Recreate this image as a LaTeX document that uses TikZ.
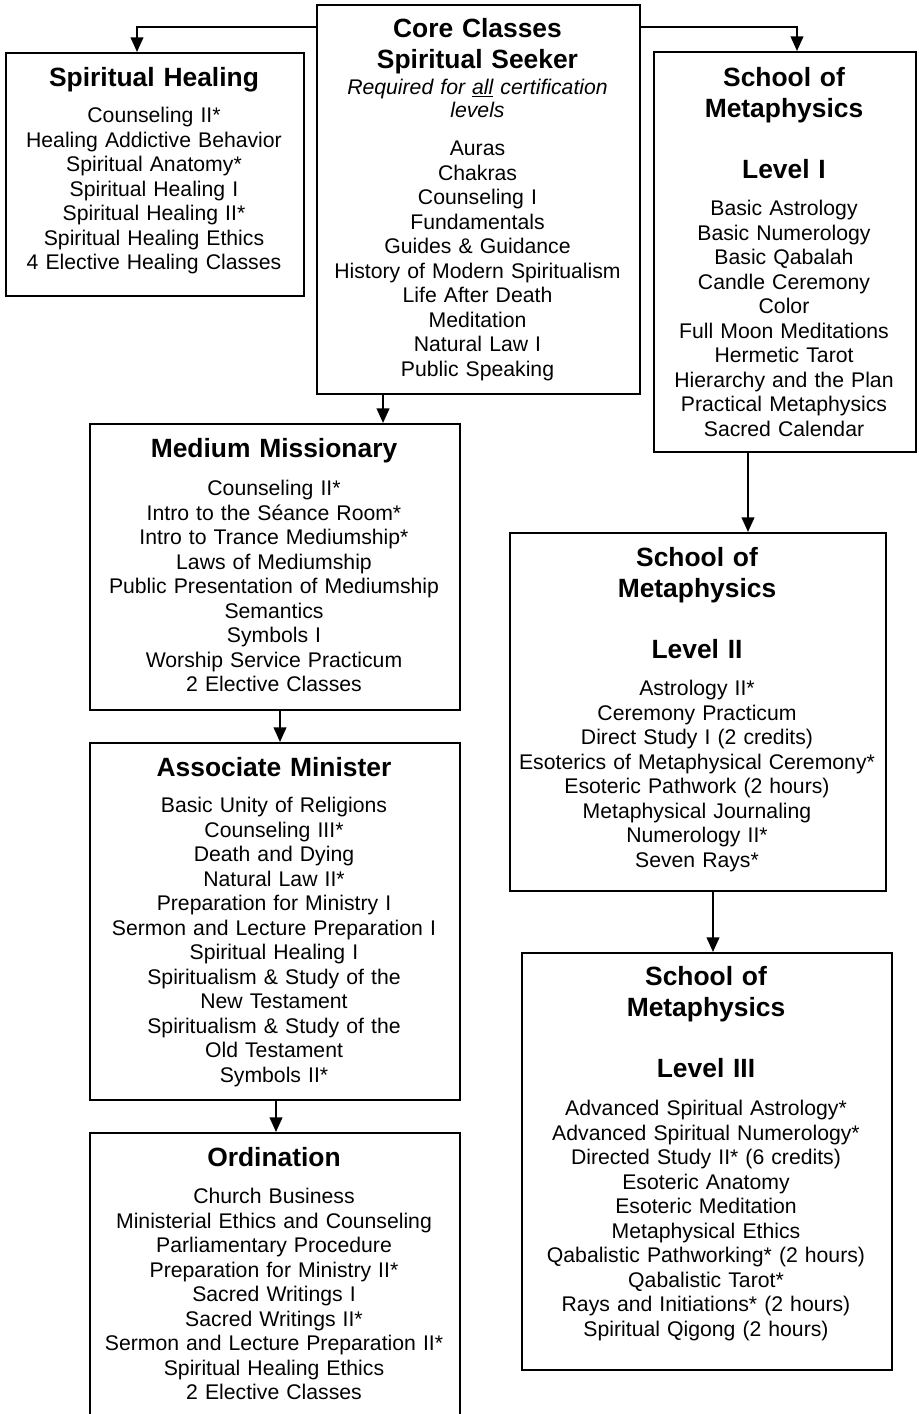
\documentclass[tikz,border=0pt]{standalone}
\usepackage{fontspec}
\setmainfont{Liberation Sans}
\usetikzlibrary{arrows.meta}
\begin{document}
\begin{tikzpicture}[x=0.75pt,y=-0.75pt,line width=1.5pt,>={Triangle[length=11pt,width=9.5pt]},
	frame/.style={draw,inner sep=0pt,anchor=north west},
	head/.style={align=center,text width=10cm,inner sep=0pt,anchor=base,font=\bfseries\fontsize{19.8}{23}\selectfont},
	list/.style={align=center,text width=10cm,inner sep=0pt,anchor=base,font=\fontsize{15.9}{18.4}\selectfont},
	note/.style={list,font=\itshape\fontsize{15.9}{17.25}\selectfont}]
	\clip (0,0) rectangle (918,1414);
	% boxes
	\node[frame,minimum width=242.25pt,minimum height=291.75pt] (core) at (316,4) {};
	\node[frame,minimum width=223.5pt,minimum height=182.25pt] (heal) at (5,52) {};
	\node[frame,minimum width=196.5pt,minimum height=300pt] (som1) at (653,51) {};
	\node[frame,minimum width=277.5pt,minimum height=214.5pt] (mm) at (89,423) {};
	\node[frame,minimum width=277.5pt,minimum height=267.75pt] (am) at (89,742) {};
	\node[frame,minimum width=277.5pt,minimum height=223.5pt] (ord) at (89,1132) {};
	\node[frame,minimum width=282pt,minimum height=268.5pt] (som2) at (509,532) {};
	\node[frame,minimum width=277.5pt,minimum height=312.75pt] (som3) at (521,952) {};
	% core classes
	\node[head] (coreT) at (477.5,37.5) {Core Classes\\Spiritual Seeker};
	\node[note] (coreN) at (477.5,94.5) {Required for \underline{all} certification\\levels};
	\node[list] (coreL) at (477.5,155.5) {Auras\\Chakras\\Counseling I\\Fundamentals\\Guides \& Guidance\\History of Modern Spiritualism\\Life After Death\\Meditation\\Natural Law I\\Public Speaking};
	% spiritual healing
	\node[head] (healT) at (154,86.5) {Spiritual Healing};
	\node[list] (healL) at (154,122.5) {Counseling II*\\Healing Addictive Behavior\\Spiritual Anatomy*\\Spiritual Healing I\\Spiritual Healing II*\\Spiritual Healing Ethics\\4 Elective Healing Classes};
	% metaphysics I
	\node[head] (som1T) at (784,86.5) {School of\\Metaphysics\\[23pt]Level I};
	\node[list] (som1L) at (784,215.5) {Basic Astrology\\Basic Numerology\\Basic Qabalah\\Candle Ceremony\\Color\\Full Moon Meditations\\Hermetic Tarot\\Hierarchy and the Plan\\Practical Metaphysics\\Sacred Calendar};
	% medium missionary
	\node[head] (mmT) at (274,457.5) {Medium Missionary};
	\node[list] (mmL) at (274,495.5) {Counseling II*\\Intro to the Séance Room*\\Intro to Trance Mediumship*\\Laws of Mediumship\\Public Presentation of Mediumship\\Semantics\\Symbols I\\Worship Service Practicum\\2 Elective Classes};
	% associate minister
	\node[head] (amT) at (274,776.5) {Associate Minister};
	\node[list] (amL) at (274,812.5) {Basic Unity of Religions\\Counseling III*\\Death and Dying\\Natural Law II*\\Preparation for Ministry I\\Sermon and Lecture Preparation I\\Spiritual Healing I\\Spiritualism \& Study of the\\New Testament\\Spiritualism \& Study of the\\Old Testament\\Symbols II*};
	% ordination
	\node[head] (ordT) at (274,1166.5) {Ordination};
	\node[list] (ordL) at (274,1203.5) {Church Business\\Ministerial Ethics and Counseling\\Parliamentary Procedure\\Preparation for Ministry II*\\Sacred Writings I\\Sacred Writings II*\\Sermon and Lecture Preparation II*\\Spiritual Healing Ethics\\2 Elective Classes};
	% metaphysics II
	\node[head] (som2T) at (697,566.5) {School of\\Metaphysics\\[23pt]Level II};
	\node[list] (som2L) at (697,695.5) {Astrology II*\\Ceremony Practicum\\Direct Study I (2 credits)\\Esoterics of Metaphysical Ceremony*\\Esoteric Pathwork (2 hours)\\Metaphysical Journaling\\Numerology II*\\Seven Rays*};
	% metaphysics III
	\node[head] (som3T) at (706,985.5) {School of\\Metaphysics\\[23pt]Level III};
	\node[list] (som3L) at (706,1115.5) {Advanced Spiritual Astrology*\\Advanced Spiritual Numerology*\\Directed Study II* (6 credits)\\Esoteric Anatomy\\Esoteric Meditation\\Metaphysical Ethics\\Qabalistic Pathworking* (2 hours)\\Qabalistic Tarot*\\Rays and Initiations* (2 hours)\\Spiritual Qigong (2 hours)};
	% arrows
	\draw[->] ([yshift=-17.25pt]core.north west) -| ([xshift=-13.5pt]heal.north);
	\draw[->] ([yshift=-17.25pt]core.north east) -| ([xshift=9pt]som1.north);
	\foreach \a/\b/\s in {core/mm/-71.6pt,mm/am/3.75pt,am/ord/0.75pt,som1/som2/-27.75pt,som2/som3/11.25pt}
	\draw[->] ([xshift=\s]\a.south) -- ([xshift=\s]\a.south |- \b.north);
\end{tikzpicture}
\end{document}
